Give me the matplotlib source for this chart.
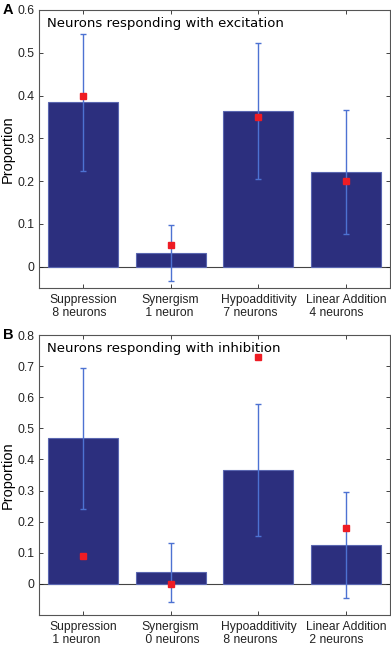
import matplotlib
matplotlib.use("Agg")
import matplotlib.pyplot as plt
from matplotlib import transforms

categories = ["Suppression", "Synergism", "Hypoadditivity", "Linear Addition"]

# panel A: excitation
exc_counts = ["8 neurons", "1 neuron", "7 neurons", "4 neurons"]
exc_mean = [0.384, 0.032, 0.364, 0.221]
exc_err = [0.160, 0.065, 0.159, 0.145]
exc_obs = [0.40, 0.05, 0.35, 0.20]

# panel B: inhibition
inh_counts = ["1 neuron", "0 neurons", "8 neurons", "2 neurons"]
inh_mean = [0.468, 0.037, 0.366, 0.124]
inh_err = [0.227, 0.095, 0.213, 0.170]
inh_obs = [0.09, 0.0, 0.73, 0.18]

bar_col = "#2c2f7e"
err_col = "#4d72d2"
red = "#ee1c24"

plt.rcParams["font.family"] = "Liberation Sans"
fig = plt.figure(figsize=(3.91, 6.46), dpi=100)
W, H = 391, 646


def panel(rect, title, letter, mean, err, obs, counts, ylim, yticks):
    ax = fig.add_axes([rect[0] / W, 1 - rect[3] / H, (rect[2] - rect[0]) / W, (rect[3] - rect[1]) / H])
    ax_h = rect[3] - rect[1]
    x = list(range(1, len(mean) + 1))
    ax.bar(x, mean, width=0.8, color=bar_col, edgecolor="#5a66b0", linewidth=0.8, zorder=2)
    ax.errorbar(x, mean, yerr=err, fmt="none", ecolor=err_col, elinewidth=1.0,
                capsize=2, capthick=1.0, zorder=3)
    ax.plot(x, obs, "s", color=red, markersize=4.6, zorder=4, linestyle="none")
    ax.axhline(0, color="#444444", linewidth=0.8, zorder=1)
    ax.set_xlim(0.5, 4.5)
    ax.set_ylim(*ylim)
    ax.set_yticks(yticks)
    ax.set_yticklabels(["0" if t == 0 else "%.1f" % t for t in yticks])
    ax.set_xticks(x)
    ax.set_xticklabels([])
    ax.tick_params(direction="in", top=True, right=True, length=3, width=0.6,
                   labelsize=8.8, colors="#222222", pad=3)
    for s in ax.spines.values():
        s.set_color("#555555")
        s.set_linewidth(0.8)

    # two-line category labels under the axis
    trans = transforms.blended_transform_factory(ax.transData, ax.transAxes)
    for xi, c, n in zip(x, categories, counts):
        ax.text(xi, -6 / ax_h, c + "\n " + n, transform=trans, ha="center", va="top",
                multialignment="left", fontsize=8.7, linespacing=1.1, color="#222222")

    ax.text(0.024, 0.975, title, transform=ax.transAxes, ha="left", va="top",
            fontsize=9.5, family="DejaVu Sans")
    fig.text(8 / W, 1 - (rect[1] + rect[3]) / 2 / H, "Proportion", rotation=90,
             ha="center", va="center", fontsize=10.5)
    fig.text(3 / W, 1 - rect[1] / H, letter, ha="left", va="center", fontsize=10.5, fontweight="bold")
    return ax


panel((39, 10, 390, 288), "Neurons responding with excitation", "A",
      exc_mean, exc_err, exc_obs, exc_counts, (-0.05, 0.6),
      [0, 0.1, 0.2, 0.3, 0.4, 0.5, 0.6])
panel((39, 335, 390, 615), "Neurons responding with inhibition", "B",
      inh_mean, inh_err, inh_obs, inh_counts, (-0.1, 0.8),
      [0, 0.1, 0.2, 0.3, 0.4, 0.5, 0.6, 0.7, 0.8])

fig.savefig("out.png", dpi=100)
